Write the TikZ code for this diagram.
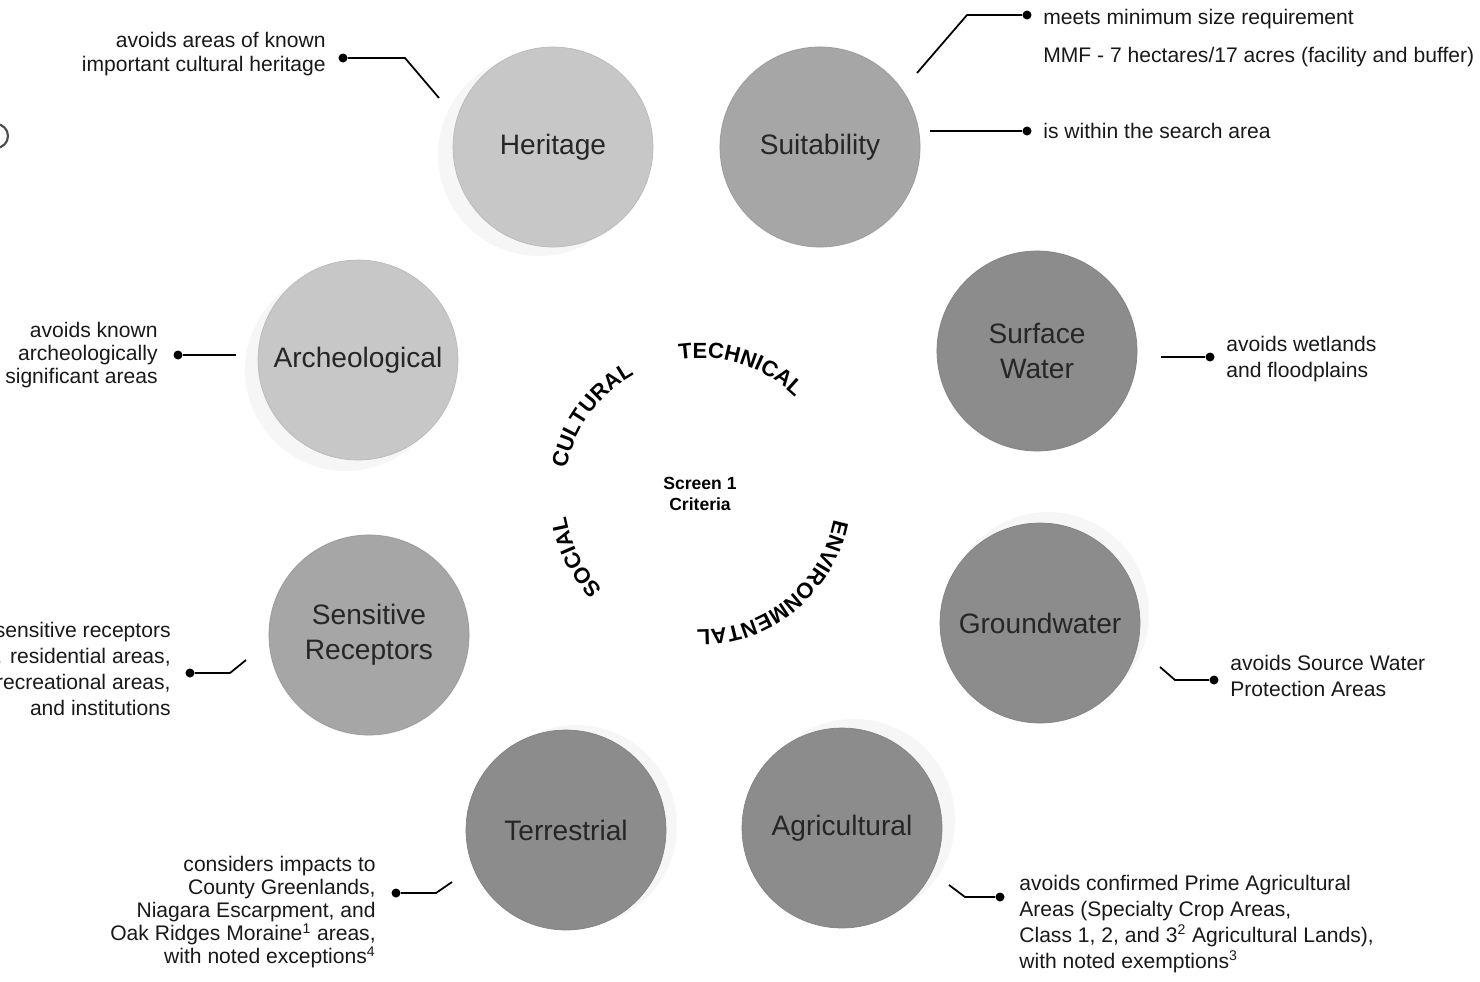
\documentclass[tikz,border=0pt]{standalone}
\usepackage{fontspec}
\setmainfont{Liberation Sans}
\usepackage{tikz}
\usetikzlibrary{calc, positioning, decorations.text}
\definecolor{lightorb}{gray}{0.78}
\definecolor{midorb}{gray}{0.65}
\definecolor{darkorb}{gray}{0.55}
\definecolor{halo}{gray}{0.965}
\newcommand{\ringfont}{\fontsize{12.5}{14}\selectfont\bfseries}
\tikzstyle{orb}   = [circle, minimum size=4cm, inner sep=0pt, align=center, font=\fontsize{16}{20}\selectfont, text=black!85]
\tikzstyle{note}  = [inner sep=0pt, font=\fontsize{12}{13.2}\selectfont, text=black!90]
\tikzstyle{loose} = [note, font=\fontsize{12}{14.7}\selectfont]
\tikzstyle{dot}   = [fill, circle, inner sep=0pt, minimum size=0.18cm]
\tikzstyle{link}  = [line width=1pt]

\begin{document}
\begin{tikzpicture}[x=0.02cm, y=0.02cm]
  \useasboundingbox (0,0) rectangle (1480,-981);

  %put the criteria circles round the centre
  \foreach \n/\x/\y/\tone/\hx/\hy/\txt in {
      her/553/147/lightorb/-14/-8/Heritage,
      suit/820/147/midorb/0/0/Suitability,
      surf/1037/351/darkorb/0/0/{Surface\\Water},
      gw/1040/623/darkorb/8/10/Groundwater,
      agri/842/828/darkorb/12/8/Agricultural,
      terr/566/830/darkorb/10/4/Terrestrial,
      sens/369/635/midorb/0/0/{Sensitive\\Receptors},
      arch/358/360/lightorb/-12/-10/Archeological}{
    \fill[halo] ($(\x,-\y)+(\hx,\hy)$) circle[radius=2.02cm];
    \node[orb, fill=\tone, draw=\tone!93!black, line width=0.4pt] (\n) at (\x,-\y) {\txt};
  }

  %centre and the four headings on a ring
  \node[font=\fontsize{10}{11.5}\selectfont\bfseries, align=center] (crit) at (700,-494) {Screen 1\\Criteria};
  \path[decorate, decoration={text along path, text align=center, text={|\ringfont|TECHNICAL}}]
    ($(crit)+(112:2.72cm)$) arc[start angle=112, end angle=32, radius=2.72cm];
  \path[decorate, decoration={text along path, text align=center, text={|\ringfont|CULTURAL}}]
    ($(crit)+(184:2.72cm)$) arc[start angle=184, end angle=104, radius=2.72cm];
  \path[decorate, decoration={text along path, text align=center, text={|\ringfont|SOCIAL}}]
    ($(crit)+(247:2.72cm)$) arc[start angle=247, end angle=167, radius=2.72cm];
  \path[decorate, decoration={text along path, text align=center, text={|\ringfont|ENVIRONMENTAL}}]
    ($(crit)+(4:2.72cm)$) arc[start angle=4, end angle=-106, radius=2.72cm];

  %heritage
  \node[dot] (her-dot) at (343,-58) {};
  \coordinate (her-end) at (439,-98);
  \draw[link] (her-dot) -- ++(62,0) -- (her-end);
  \node[note, anchor=east, align=right] (her-txt) at (326,-54) {avoids areas of known\\important cultural heritage};

  %suitability
  \node[dot] (suit-dot) at (1027,-15) {};
  \coordinate (suit-end) at (917,-73);
  \draw[link] (suit-end) -- ++(50,58) -- (suit-dot);
  \node[note, anchor=west] (suit-txt) at (1043,-19) {meets minimum size requirement};
  \node[note, anchor=west] (suit-mmf) at (1043,-57) {MMF - 7 hectares/17 acres (facility and buffer)};
  \node[dot] (area-dot) at (1027,-131) {};
  \coordinate (area-end) at (930,-131);
  \draw[link] (area-end) -- (area-dot);
  \node[note, anchor=west] (area-txt) at (1043,-131) {is within the search area};

  %archeological
  \node[dot] (arch-dot) at (178,-355) {};
  \coordinate (arch-end) at (236,-355);
  \draw[link] (arch-dot) -- (arch-end);
  \node[note, anchor=east, align=right] (arch-txt) at (158,-355) {avoids known\\archeologically\\significant areas};

  %surface water
  \node[dot] (surf-dot) at (1210,-357) {};
  \coordinate (surf-end) at (1161,-357);
  \draw[link] (surf-end) -- (surf-dot);
  \node[loose, anchor=west, align=left] (surf-txt) at (1226,-359) {avoids wetlands\\and floodplains};

  %sensitive receptors
  \node[dot] (sens-dot) at (190,-673) {};
  \coordinate (sens-end) at (246,-660);
  \draw[link] (sens-dot) -- ++(40,0) -- (sens-end);
  \node[loose, anchor=east, align=right] (sens-txt) at (171,-669) {sensitive receptors\\. residential areas,\\recreational areas,\\and institutions};

  %groundwater
  \node[dot] (gw-dot) at (1214,-680) {};
  \coordinate (gw-end) at (1160,-667);
  \draw[link] (gw-end) -- ++(15,-13) -- (gw-dot);
  \node[loose, anchor=west, align=left] (gw-txt) at (1230,-676) {avoids Source Water\\Protection Areas};

  %terrestrial
  \node[dot] (terr-dot) at (396,-893) {};
  \coordinate (terr-end) at (452,-882);
  \draw[link] (terr-dot) -- ++(40,0) -- (terr-end);
  \node[note, anchor=east, align=right] (terr-txt) at (376,-912) {considers impacts to\\County Greenlands,\\Niagara Escarpment, and\\Oak Ridges Moraine\textsuperscript{1} areas,\\with noted exceptions\textsuperscript{4}};

  %agricultural
  \node[dot] (agri-dot) at (1000,-897) {};
  \coordinate (agri-end) at (949,-885);
  \draw[link] (agri-end) -- ++(16,-12) -- (agri-dot);
  \node[loose, anchor=west, align=left] (agri-txt) at (1019,-924) {avoids confirmed Prime Agricultural\\Areas (Specialty Crop Areas,\\Class 1, 2, and 3\textsuperscript{2} Agricultural Lands),\\with noted exemptions\textsuperscript{3}};

  %cut-off ring at the left edge
  \draw[black!70, line width=1.2pt] (-4,-136) circle[radius=0.24cm];
\end{tikzpicture}
\end{document}
